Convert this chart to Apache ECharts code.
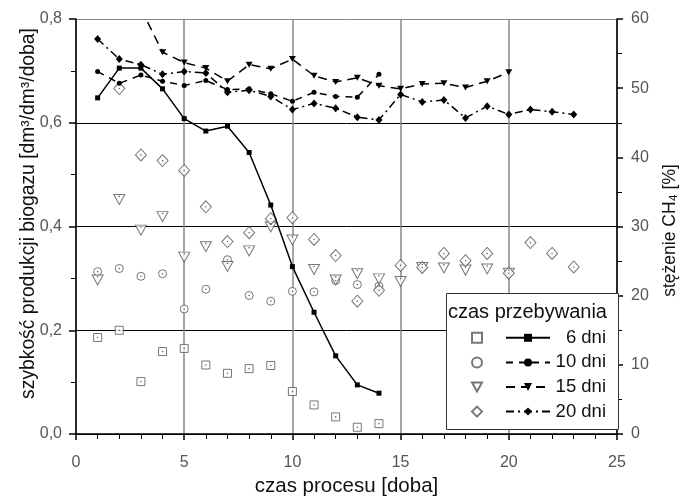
<!DOCTYPE html>
<html><head><meta charset="utf-8">
<script src="https://cdn.jsdelivr.net/npm/echarts@6/dist/echarts.min.js"></script>
<style>html,body{margin:0;padding:0;background:#fff}#c{width:687px;height:502px}</style>
</head><body><div id="c"></div>
<script>
// ---- data ----
const days6 = [1,2,3,4,5,6,7,8,9,10,11,12,13,14];
const bio6  = [0.186,0.200,0.101,0.159,0.165,0.133,0.117,0.126,0.132,0.082,0.056,0.033,0.013,0.020];
const ch4_6 = [48.6,52.9,52.9,49.9,45.6,43.8,44.5,40.7,33.1,24.2,17.6,11.3,7.1,5.9];

const days10 = [1,2,3,4,5,6,7,8,9,10,11,12,13,14];
const bio10  = [0.313,0.319,0.304,0.309,0.241,0.279,0.336,0.267,0.256,0.275,0.274,0.296,0.288,0.285];
const ch4_10 = [52.4,50.7,51.9,51.0,50.4,51.1,49.8,49.9,49.2,48.1,49.4,48.8,48.7,52.0];

const days15bio = [1,2,3,4,5,6,7,8,9,10,11,12,13,14,15,16,17,18,19,20];
const bio15     = [0.297,0.452,0.393,0.419,0.341,0.361,0.323,0.353,0.399,0.374,0.317,0.297,0.309,0.299,0.294,0.321,0.320,0.316,0.318,0.310];
const days15ch4 = [3,4,5,6,7,8,9,10,11,12,13,14,15,16,17,18,19,20];
const ch4_15    = [61.5,55.2,53.7,52.9,51.0,53.4,52.8,54.2,51.8,50.9,51.5,50.35,49.9,50.6,50.7,50.1,51.0,52.3];

const days20bio = [2,3,4,5,6,7,8,9,10,11,12,13,14,15,16,17,18,19,20,21,22,23];
const bio20     = [0.666,0.538,0.527,0.508,0.438,0.371,0.388,0.415,0.417,0.375,0.344,0.256,0.277,0.325,0.321,0.348,0.334,0.348,0.310,0.369,0.348,0.322];
const days20ch4 = [1,2,3,4,5,6,7,8,9,10,11,12,13,14,15,16,17,18,19,20,21,22,23];
const ch4_20    = [57.1,54.2,53.4,52.0,52.4,52.2,49.4,49.7,48.8,46.9,47.8,47.1,45.8,45.4,49.1,48.0,48.3,45.7,47.4,46.2,46.9,46.6,46.2];

const lineNames = ['6 dni','10 dni','15 dni','20 dni'];
const openNames = ['o6','o10','o15','o20'];
const xTitle = 'czas procesu [doba]';
const yLeftTitle = 'szybkość produkcji biogazu [dm³/dm³/doba]';
const yRightTitle = 'stężenie CH₄ [%]';
const legendTitle = 'czas przebywania';

// ---- chart ----
const FONT = '"Liberation Sans", Arial, sans-serif';
const pairs = (xs, ys) => xs.map((x, i) => [x, ys[i]]);
const triDown = 'path://M0,0L10,0L5,9Z';
const openStyle = {color: '#fff', borderColor: '#555', borderWidth: 1};
const dotStyle = {color: '#444'};

function openSeries(name, symbol, size, xs, ys) {
  return {name, type: 'scatter', yAxisIndex: 0, symbol, symbolSize: size,
    itemStyle: openStyle, data: pairs(xs, ys), z: 3, silent: true};
}
function dotSeries(xs, ys) {
  return {type: 'scatter', yAxisIndex: 0, symbol: 'circle', symbolSize: 1.6,
    itemStyle: dotStyle, data: pairs(xs, ys), z: 4, silent: true};
}
function lineSeries(name, symbol, size, dash, xs, ys) {
  return {name, type: 'line', yAxisIndex: 1, symbol, symbolSize: size, showAllSymbol: true,
    lineStyle: {color: '#000', width: 1.5, type: dash},
    itemStyle: {color: '#000', borderWidth: 0}, data: pairs(xs, ys), z: 5, clip: true, silent: true};
}

const LEG_TOP = 323.3, LEG_GAP = 5.6;
const chart = echarts.init(document.getElementById('c'));
chart.setOption({
  animation: false,
  backgroundColor: '#fff',
  textStyle: {fontFamily: FONT},
  grid: {left: 76, right: 64, top: 19, bottom: 65},
  xAxis: {
    type: 'value', min: 0, max: 25, interval: 5,
    axisLine: {lineStyle: {color: '#000', width: 1.5}},
    axisTick: {length: 6, lineStyle: {color: '#000', width: 1.5}},
    minorTick: {show: true, splitNumber: 5, length: 5, lineStyle: {color: '#000', width: 1}},
    splitLine: {show: true, lineStyle: {color: '#888', width: 1.5}},
    axisLabel: {margin: 21, fontSize: 16, color: '#555', fontFamily: FONT},
    name: xTitle, nameLocation: 'middle', nameGap: 42, nameMoveOverlap: false,
    nameTextStyle: {fontSize: 20.5, color: '#111', fontFamily: FONT}
  },
  yAxis: [{
    type: 'value', min: 0, max: 0.8, interval: 0.2, position: 'left',
    axisLine: {show: true, lineStyle: {color: '#000', width: 1.5}},
    axisTick: {show: true, length: 7, lineStyle: {color: '#000', width: 1.5}},
    minorTick: {show: true, splitNumber: 2, length: 5, lineStyle: {color: '#000', width: 1}},
    splitLine: {show: true, lineStyle: {color: ['#000','#000','#000','#000','#888'], width: 1}},
    axisLabel: {margin: 14, fontSize: 16, color: '#555', fontFamily: FONT,
      formatter: v => v.toFixed(1).replace('.', ',')},
    name: yLeftTitle, nameLocation: 'middle', nameGap: 38, nameRotate: 90, nameMoveOverlap: false,
    nameTextStyle: {fontSize: 19.3, color: '#111', fontFamily: FONT, padding: [0, 0, 0, 26]}
  }, {
    type: 'value', min: 0, max: 60, interval: 10, position: 'right',
    axisLine: {show: true, lineStyle: {color: '#000', width: 1.5}},
    axisTick: {show: true, length: 6, lineStyle: {color: '#000', width: 1.5}},
    minorTick: {show: true, splitNumber: 2, length: 5, lineStyle: {color: '#000', width: 1}},
    splitLine: {show: false},
    axisLabel: {margin: 14, fontSize: 16, color: '#555', fontFamily: FONT},
    name: yRightTitle, nameLocation: 'middle', nameGap: 44, nameRotate: 90, nameMoveOverlap: false,
    nameTextStyle: {fontSize: 17.5, color: '#111', fontFamily: FONT, padding: [0, 8, 0, 0]}
  }],
  legend: [{
    data: openNames, orient: 'vertical', left: 466, top: LEG_TOP, z: 6,
    itemWidth: 10, itemHeight: 10, itemGap: LEG_GAP, selectedMode: false,
    formatter: n => '{a|}',
    textStyle: {rich: {a: {width: 1, fontSize: 19, lineHeight: 20, fontFamily: FONT}}}
  }, {
    data: lineNames, orient: 'vertical', left: 500, top: LEG_TOP, z: 6,
    itemWidth: 44, itemHeight: 10, itemGap: LEG_GAP, selectedMode: false,
    formatter: n => '{a|' + n + '}',
    textStyle: {rich: {a: {width: 51, align: 'right', fontSize: 18.5, lineHeight: 20, color: '#111', fontFamily: FONT}}}
  }],
  graphic: [{
    type: 'rect', left: 446, top: 293, z: 3,
    shape: {width: 172, height: 136},
    style: {fill: '#fff', stroke: '#333', lineWidth: 1}
  }, {
    type: 'text', left: 448, top: 302, z: 6,
    style: {text: legendTitle, fontSize: 20, fill: '#111', fontFamily: FONT}
  }],
  series: [
    openSeries('o6', 'rect', 8, days6, bio6),
    openSeries('o10', 'circle', 8, days10, bio10),
    openSeries('o15', triDown, [11, 10], days15bio, bio15),
    openSeries('o20', 'diamond', [11, 12], days20bio, bio20),
    dotSeries(days6, bio6), dotSeries(days10, bio10),
    dotSeries(days15bio, bio15.map(v => v + 0.006)), dotSeries(days20bio, bio20),
    lineSeries('6 dni', 'rect', 5, 'solid', days6, ch4_6),
    lineSeries('10 dni', 'circle', 5, [7, 6], days10, ch4_10),
    lineSeries('15 dni', triDown, [7, 6], [9, 6], days15ch4, ch4_15),
    lineSeries('20 dni', 'diamond', [7, 8], [8, 4, 2, 4], days20ch4, ch4_20)
  ]
});
</script>
</body></html>
